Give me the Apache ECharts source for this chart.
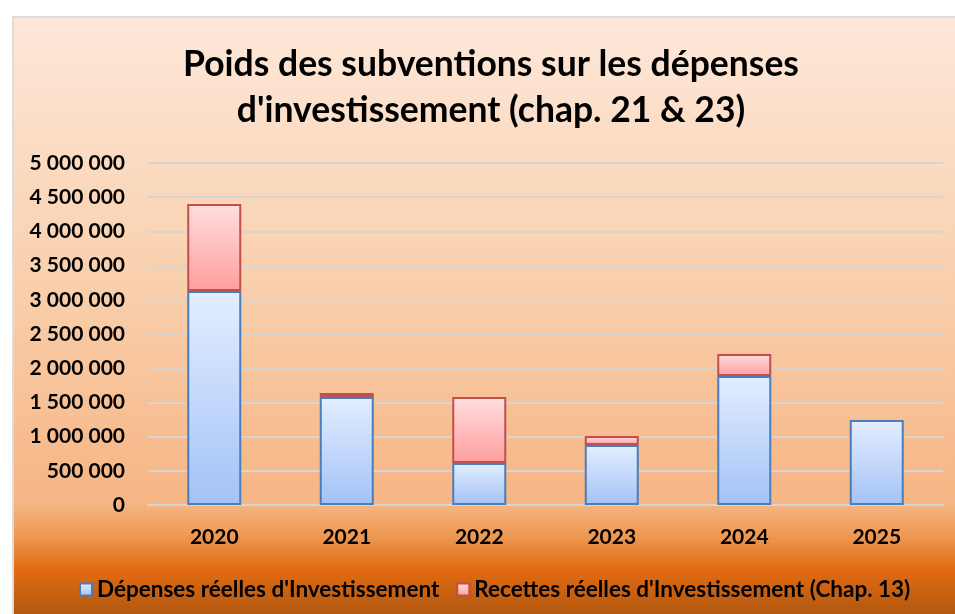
<!DOCTYPE html>
<html>
<head>
<meta charset="utf-8">
<script src="https://cdn.jsdelivr.net/npm/echarts@6/dist/echarts.min.js"></script>
<style>
  html, body { margin: 0; padding: 0; background: #fff; }
  #chart { width: 955px; height: 614px; }
</style>
</head>
<body>
<div id="chart"></div>
<script>
// values
var years = ["2020", "2021", "2022", "2023", "2024", "2025"];
var depenses = [3130000, 1580000, 615000, 877000, 1886000, 1243000];
var recettes = [1270000, 57000, 965000, 132000, 322000, 0];
var legendNames = ["Dépenses réelles d'Investissement", "Recettes réelles d'Investissement (Chap. 13)"];

var font = "Lato";

function spaced(v) {
  return String(v).replace(/\B(?=(\d{3})+(?!\d))/g, " ");
}

// empty segments are not drawn (no border line on top of the bar)
function hideZero(arr) {
  return arr.map(function (v) { return v === 0 ? "-" : v; });
}

var myChart = echarts.init(document.getElementById("chart"));

myChart.setOption({
  backgroundColor: "#ffffff",
  graphic: [
    {
      type: "rect",
      z: -10,
      silent: true,
      shape: { x: 13, y: 17, width: 950, height: 600 },
      style: {
        stroke: "#dcdcdc",
        lineWidth: 2,
        fill: new echarts.graphic.LinearGradient(0, 0, 0, 1, [
          { offset: 0, color: "#fde8da" },
          { offset: 0.45, color: "#f9cfac" },
          { offset: 0.81, color: "#f6b584" },
          { offset: 0.86, color: "#ef9b56" },
          { offset: 0.92, color: "#e26b12" },
          { offset: 1, color: "#ad560f" }
        ])
      }
    }
  ],
  title: {
    text: "Poids des subventions sur les dépenses\nd'investissement (chap. 21 & 23)",
    left: 486,
    top: 37,
    textAlign: "center",
    textStyle: {
      fontFamily: font,
      fontSize: 35.5,
      fontWeight: "bold",
      color: "#000",
      lineHeight: 46
    }
  },
  legend: {
    data: legendNames,
    bottom: 8,
    left: 74,
    icon: "rect",
    itemWidth: 12,
    itemHeight: 12,
    itemGap: 17,
    textStyle: {
      fontFamily: font,
      fontSize: 22.5,
      fontWeight: "bold",
      color: "#000",
      padding: [0, 0, 0, 0]
    }
  },
  grid: {
    left: 148,
    right: 12,
    top: 163,
    bottom: 109,
    outerBoundsMode: "none"
  },
  xAxis: {
    type: "category",
    data: years,
    axisTick: { show: false },
    axisLine: { lineStyle: { color: "#d6d6d6", width: 2 } },
    axisLabel: {
      margin: 22,
      fontFamily: font,
      fontSize: 21,
      fontWeight: "bold",
      color: "#000"
    }
  },
  yAxis: {
    type: "value",
    min: 0,
    max: 5000000,
    interval: 500000,
    axisLine: { show: false },
    axisTick: { show: false },
    splitLine: { lineStyle: { color: "#d9d4cf", width: 2 } },
    axisLabel: {
      margin: 23,
      fontFamily: font,
      fontSize: 21,
      fontWeight: "bold",
      color: "#000",
      formatter: function (v) {
        return spaced(v);
      }
    }
  },
  series: [
    {
      name: legendNames[0],
      type: "bar",
      stack: "total",
      barWidth: 54,
      data: hideZero(depenses),
      itemStyle: {
        borderColor: "#4a7ebb",
        borderWidth: 2,
        color: new echarts.graphic.LinearGradient(0, 0, 0, 1, [
          { offset: 0, color: "#e3eeff" },
          { offset: 1, color: "#a3c2f7" }
        ])
      }
    },
    {
      name: legendNames[1],
      type: "bar",
      stack: "total",
      barWidth: 54,
      data: hideZero(recettes),
      itemStyle: {
        borderColor: "#c0504d",
        borderWidth: 2,
        color: new echarts.graphic.LinearGradient(0, 0, 0, 1, [
          { offset: 0, color: "#ffdede" },
          { offset: 1, color: "#ff9e9e" }
        ])
      }
    }
  ]
});

window.addEventListener("resize", function () {
  myChart.resize();
});
</script>
</body>
</html>
